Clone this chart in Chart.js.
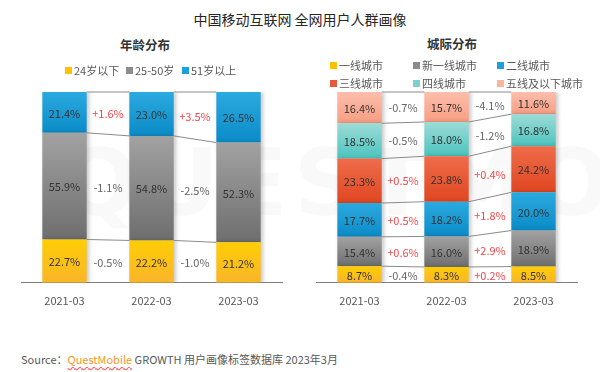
<!DOCTYPE html>
<html>
<head>
<meta charset="utf-8">
<script src="https://cdn.jsdelivr.net/npm/chart.js@4.4.0/dist/chart.umd.min.js"></script>
<style>
  body { margin: 0; width: 600px; height: 372px; position: relative; background: #fff; overflow: hidden;
         font-family: "Noto Sans CJK SC", sans-serif; }
  .t { position: absolute; white-space: nowrap; }
  .lg { position: absolute; white-space: nowrap; font-size: 11px; color: #595959; line-height: 14px; }
  .lg i { display: inline-block; width: 7px; height: 7px; margin-right: 2px; vertical-align: 1px; }
  canvas { position: absolute; top: 0; }
  .wm { position: absolute; left: 60px; top: 130px; font-size: 92px; letter-spacing: 6px; color: rgba(0,0,0,0.022);
        font-family: "DejaVu Sans", sans-serif; font-weight: bold; }
</style>
</head>
<body>
<div class="wm">QUESTMOBILE</div>
<div class="t" style="left:0;width:600px;top:9px;text-align:center;font-size:14px;color:#262626;">中国移动互联网 全网用户人群画像</div>
<div class="t" style="left:95px;width:100px;top:35px;text-align:center;font-size:12.5px;color:#333;font-weight:bold;">年龄分布</div>
<div class="t" style="left:402px;width:100px;top:34px;text-align:center;font-size:12.5px;color:#333;font-weight:bold;">城际分布</div>
<canvas id="chartAge" width="300" height="330" style="left:0"></canvas>
<canvas id="chartCity" width="300" height="330" style="left:300px"></canvas>
<div class="t" style="left:21px;top:351px;font-size:11px;color:#595959;">Source：<span style="color:#F39A1E;text-decoration:underline wavy #f55;text-underline-offset:2px;">QuestMobile</span> GROWTH 用户画像标签数据库 2023年3月</div>

<script>
// Dados
const anos = ['2021-03', '2022-03', '2023-03'];

const idadeNomes = ['24岁以下', '25-50岁', '51岁以上'];
const idade24 = [22.7, 22.2, 21.2];
const idade25a50 = [55.9, 54.8, 52.3];
const idade51 = [21.4, 23.0, 26.5];
const idade24Var = [-0.5, -1.0];
const idade25a50Var = [-1.1, -2.5];
const idade51Var = [1.6, 3.5];

const cidadeNomes = ['一线城市', '新一线城市', '二线城市', '三线城市', '四线城市', '五线及以下城市'];
const cidade1 = [8.7, 8.3, 8.5];
const cidadeNova1 = [15.4, 16.0, 18.9];
const cidade2 = [17.7, 18.2, 20.0];
const cidade3 = [23.3, 23.8, 24.2];
const cidade4 = [18.5, 18.0, 16.8];
const cidade5 = [16.4, 15.7, 11.6];
const cidade1Var = [-0.4, 0.2];
const cidadeNova1Var = [0.6, 2.9];
const cidade2Var = [0.5, 1.8];
const cidade3Var = [0.5, 0.4];
const cidade4Var = [-0.5, -1.2];
const cidade5Var = [-0.7, -4.1];

const fonte = '"Noto Sans CJK SC", sans-serif';

// cores: [topo, base, legenda]
const amarelo = ['#FFCD05', '#F9B52A', '#FFC000'];
const cinza = ['#A2A2A2', '#6E6E6E', '#8C8C8C'];
const azul = ['#2BAAE0', '#0B8BC7', '#1BA0DC'];
const laranja = ['#EF6C4A', '#E04621', '#E8573A'];
const turquesa = ['#9CDCD7', '#4CC3BE', '#7CD2CD'];
const salmao = ['#FDBEAB', '#F69E83', '#FBB4A0'];

// gradiente por barra
function gradiente(cor) {
  return (ctx) => {
    const chart = ctx.chart;
    if (!chart.chartArea || ctx.type !== 'data') return cor[2];
    const y = chart.scales.y;
    let ini = 0;
    for (let d = 0; d < ctx.datasetIndex; d++) ini += chart.data.datasets[d].data[ctx.dataIndex];
    const fim = ini + chart.data.datasets[ctx.datasetIndex].data[ctx.dataIndex];
    const g = chart.ctx.createLinearGradient(0, y.getPixelForValue(fim), 0, y.getPixelForValue(ini));
    g.addColorStop(0, cor[0]);
    g.addColorStop(1, cor[1]);
    return g;
  };
}

const decoracao = {
  id: 'decoracao',
  beforeDatasetsDraw(chart) {
    const c = chart.ctx;
    c.save();
    c.shadowColor = 'rgba(0,0,0,0.22)';
    c.shadowBlur = 4;
    c.shadowOffsetX = 2;
  },
  afterDatasetsDraw(chart) {
    const c = chart.ctx;
    c.restore();
    const n = chart.data.labels.length;
    c.save();
    // linhas de ligação
    c.strokeStyle = '#8a8a8a';
    c.lineWidth = 1;
    chart.data.datasets.forEach((ds, di) => {
      const meta = chart.getDatasetMeta(di);
      for (let i = 0; i < n - 1; i++) {
        const a = meta.data[i], b = meta.data[i + 1];
        c.beginPath();
        c.moveTo(a.x + a.width / 2, a.y);
        c.lineTo(b.x - b.width / 2, b.y);
        c.stroke();
      }
    });
    // valores e variações
    c.font = '11px ' + fonte;
    c.textAlign = 'center';
    c.textBaseline = 'middle';
    chart.data.datasets.forEach((ds, di) => {
      const meta = chart.getDatasetMeta(di);
      meta.data.forEach((el, i) => {
        c.fillStyle = '#333';
        c.fillText(ds.data[i].toFixed(1) + '%', el.x, (el.y + el.base) / 2 + 1);
      });
      ds.variacao.forEach((v, i) => {
        const a = meta.data[i], b = meta.data[i + 1];
        const ya = (a.y + a.base) / 2, yb = (b.y + b.base) / 2;
        c.fillStyle = v > 0 ? '#F2474B' : '#666';
        c.fillText((v > 0 ? '+' : '') + v.toFixed(1) + '%', (a.x + b.x) / 2, (ya + yb) / 2 + 1);
      });
    });
    c.restore();
  }
};

function criarGrafico(id, series, padEsq, padDir) {
  new Chart(document.getElementById(id), {
    type: 'bar',
    data: {
      labels: anos,
      datasets: series.map(s => ({
        label: s.nome,
        data: s.dados,
        variacao: s.variacao,
        backgroundColor: gradiente(s.cor),
        borderWidth: 0,
        categoryPercentage: 1,
        barPercentage: 0.51
      }))
    },
    options: {
      responsive: false,
      animation: false,
      devicePixelRatio: 1,
      layout: { padding: { top: 92, left: padEsq, right: padDir, bottom: 12 } },
      plugins: { legend: { display: false }, tooltip: { enabled: false } },
      scales: {
        x: {
          stacked: true,
          grid: { display: false, drawTicks: false },
          border: { display: true, color: '#7f7f7f' },
          ticks: { color: '#595959', font: { size: 11, family: fonte }, padding: 11 }
        },
        y: { stacked: true, display: false, min: 0, max: 100 }
      }
    },
    plugins: [decoracao]
  });
}

function criarLegenda(nomes, cores, xs, ys, colunas) {
  nomes.forEach((nome, i) => {
    const d = document.createElement('div');
    d.className = 'lg';
    d.style.left = xs[i % colunas] + 'px';
    d.style.top = (ys[Math.floor(i / colunas)] - 7) + 'px';
    d.innerHTML = '<i style="background:' + cores[i][2] + '"></i>' + nome;
    document.body.appendChild(d);
  });
}

criarGrafico('chartAge', [
  { nome: idadeNomes[0], dados: idade24, variacao: idade24Var, cor: amarelo },
  { nome: idadeNomes[1], dados: idade25a50, variacao: idade25a50Var, cor: cinza },
  { nome: idadeNomes[2], dados: idade51, variacao: idade51Var, cor: azul }
], 21, 18);

criarGrafico('chartCity', [
  { nome: cidadeNomes[0], dados: cidade1, variacao: cidade1Var, cor: amarelo },
  { nome: cidadeNomes[1], dados: cidadeNova1, variacao: cidadeNova1Var, cor: cinza },
  { nome: cidadeNomes[2], dados: cidade2, variacao: cidade2Var, cor: azul },
  { nome: cidadeNomes[3], dados: cidade3, variacao: cidade3Var, cor: laranja },
  { nome: cidadeNomes[4], dados: cidade4, variacao: cidade4Var, cor: turquesa },
  { nome: cidadeNomes[5], dados: cidade5, variacao: cidade5Var, cor: salmao }
], 16, 23);

criarLegenda(idadeNomes, [amarelo, cinza, azul], [65, 126, 182], [70], 3);
criarLegenda(cidadeNomes, [amarelo, cinza, azul, laranja, turquesa, salmao], [330, 413, 497], [65, 83], 3);
</script>
</body>
</html>
